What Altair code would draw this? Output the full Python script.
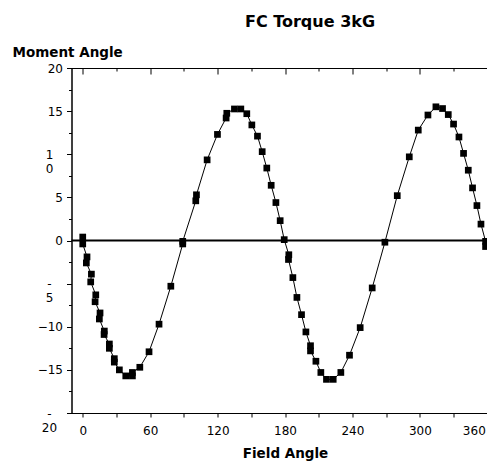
import altair as alt
import pandas as pd

# ---- data ----
angles = [0, 0, 3.8, 3.2, 7.7, 7.1, 11.6, 11.0, 15.4, 14.8, 19.2, 19.0, 23.7, 23.7,
          28.1, 28.1, 32.6, 38.3, 44.2, 44.2, 50.8, 59.0, 67.9, 78.4, 89.0, 89.0,
          100.6, 101.2, 110.7, 119.9, 127.6, 128.2, 135.0, 140.7, 146.0, 150.5,
          155.5, 159.7, 163.8, 167.7, 171.9, 175.7, 179.3, 183.4, 183.1, 187.0,
          190.6, 194.7, 198.6, 202.7, 202.7, 207.5, 211.9, 216.9, 222.9, 229.7,
          237.4, 246.9, 257.6, 268.9, 279.9, 290.6, 298.6, 307.2, 314.3, 320.2,
          325.3, 330.0, 334.8, 338.9, 343.1, 346.9, 350.8, 354.4, 358.5, 358.5]
moments = [0.4, -0.4, -1.9, -2.6, -3.9, -4.8, -6.3, -7.1, -8.4, -9.1, -10.5, -10.9,
           -12.0, -12.5, -13.7, -14.1, -15.0, -15.7, -15.7, -15.3, -14.7, -12.9,
           -9.7, -5.3, -0.4, -0.1, 4.6, 5.3, 9.35, 12.3, 14.2, 14.75, 15.25, 15.25,
           14.7, 13.4, 12.1, 10.3, 8.4, 6.4, 4.4, 2.3, 0.1, -1.65, -2.2, -4.3, -6.6,
           -8.6, -10.6, -12.2, -12.8, -14.0, -15.3, -16.1, -16.1, -15.3, -13.3,
           -10.1, -5.5, -0.2, 5.2, 9.7, 12.8, 14.55, 15.5, 15.3, 14.6, 13.5, 12.0,
           10.1, 8.15, 6.1, 4.05, 1.9, -0.1, -0.7]

x_ticks_all = [0, 30, 60, 90, 120, 150, 180, 210, 240, 270, 300, 330, 360]
x_major = [0, 60, 120, 180, 240, 300, 360]
x_minor = [30, 90, 150, 210, 270, 330]
y_major = [-20, -15, -10, -5, 0, 5, 10, 15, 20]
y_minor = [-17.5, -12.5, -7.5, -2.5, 2.5, 7.5, 12.5, 17.5]
y_all = sorted(y_major + y_minor)
zero_line = [0]

chart_title = "FC Torque 3kG"
x_title = "Field Angle"
y_title = "Moment Angle"

df = pd.DataFrame({"angle": angles, "moment": moments, "idx": list(range(len(angles)))})
zdf = pd.DataFrame({"y": zero_line})

FONT = "DejaVu Sans"
xs = alt.Scale(domain=[-10, 370], nice=False, zero=False)
ys = alt.Scale(domain=[-20, 20], nice=False, zero=False)

wrapped = "datum.value == 10 || datum.value == -5 || datum.value == -20"
y_label_expr = (
    "datum.value == 10 ? ['1', '0'] : "
    "datum.value == -5 ? ['-', '5'] : "
    "datum.value == -20 ? ['-', '20'] : datum.label"
)

base = alt.Chart(df)

zero = alt.Chart(zdf).mark_rule(color="black", strokeWidth=2).encode(
    y=alt.Y("y:Q", scale=ys, axis=alt.Axis(orient="right", values=y_all, tickSize=4, offset=-7,
                                           domain=False, labels=False, title=None, grid=False))
)

line = base.mark_line(color="black", strokeWidth=1).encode(
    x=alt.X("angle:Q", scale=xs, title=x_title,
            axis=alt.Axis(orient="bottom", values=x_ticks_all,
                          labelExpr="datum.value % 60 == 0 ? datum.label : ''",
                          labelAlign={"condition": {"test": "datum.value == 360", "value": "right"},
                                      "value": "center"},
                          labelOffset={"condition": {"test": "datum.value == 360", "value": -2},
                                       "value": 0},
                          tickSize=4, labelPadding=8, grid=False,
                          titleFont=FONT, titleFontSize=13.5, titleFontWeight="bold",
                          titleX=213.5, titleY=44.5, titleBaseline="alphabetic",
                          titleAlign="center")),
    y=alt.Y("moment:Q", scale=ys, title=y_title,
            axis=alt.Axis(orient="left", values=y_major, labelExpr=y_label_expr,
                          labelAlign={"condition": {"test": wrapped, "value": "center"},
                                      "value": "right"},
                          labelPadding={"condition": {"test": wrapped, "value": 17.5},
                                        "value": 4},
                          tickSize=5, labelLineHeight=14, grid=False,
                          titleAngle=0, titleAlign="left", titleBaseline="alphabetic",
                          titleX=-59.5, titleY=-12, titleFont=FONT, titleFontSize=13.5,
                          titleFontWeight="bold")),
    order="idx:Q",
)

pts = base.mark_square(color="black", size=45, opacity=1).encode(
    x=alt.X("angle:Q", scale=xs,
            axis=alt.Axis(orient="top", values=x_major, tickSize=6, offset=-6, domain=False,
                          labels=False, title=None, grid=False)),
    y=alt.Y("moment:Q", scale=ys,
            axis=alt.Axis(orient="left", values=y_minor, tickSize=3, domain=False,
                          labels=False, title=None, grid=False)),
)

ghost = base.mark_point(opacity=0).encode(
    x=alt.X("angle:Q", scale=xs,
            axis=alt.Axis(orient="top", values=x_minor, tickSize=3, offset=-3, domain=False,
                          labels=False, title=None, grid=False)),
    y=alt.Y("moment:Q", scale=ys, axis=None),
)

chart = alt.layer(zero, line, pts, ghost).resolve_axis(
    x="independent", y="independent"
).properties(
    width=427, height=345,
    autosize=alt.AutoSizeParams(type="none"),
    padding={"left": 63.5, "top": 60, "right": -11.5, "bottom": 52},
    title=alt.Title(chart_title, font=FONT, fontSize=16, fontWeight="bold",
                    anchor="middle", dx=25, dy=-11, color="black"),
).configure_view(
    stroke="black", strokeWidth=1
).configure_axis(
    labelFont=FONT, labelFontSize=12, labelColor="black", tickColor="black",
    domainColor="black", titleColor="black"
)

chart.save("out.html", embed_options={"renderer": "svg", "actions": False})
